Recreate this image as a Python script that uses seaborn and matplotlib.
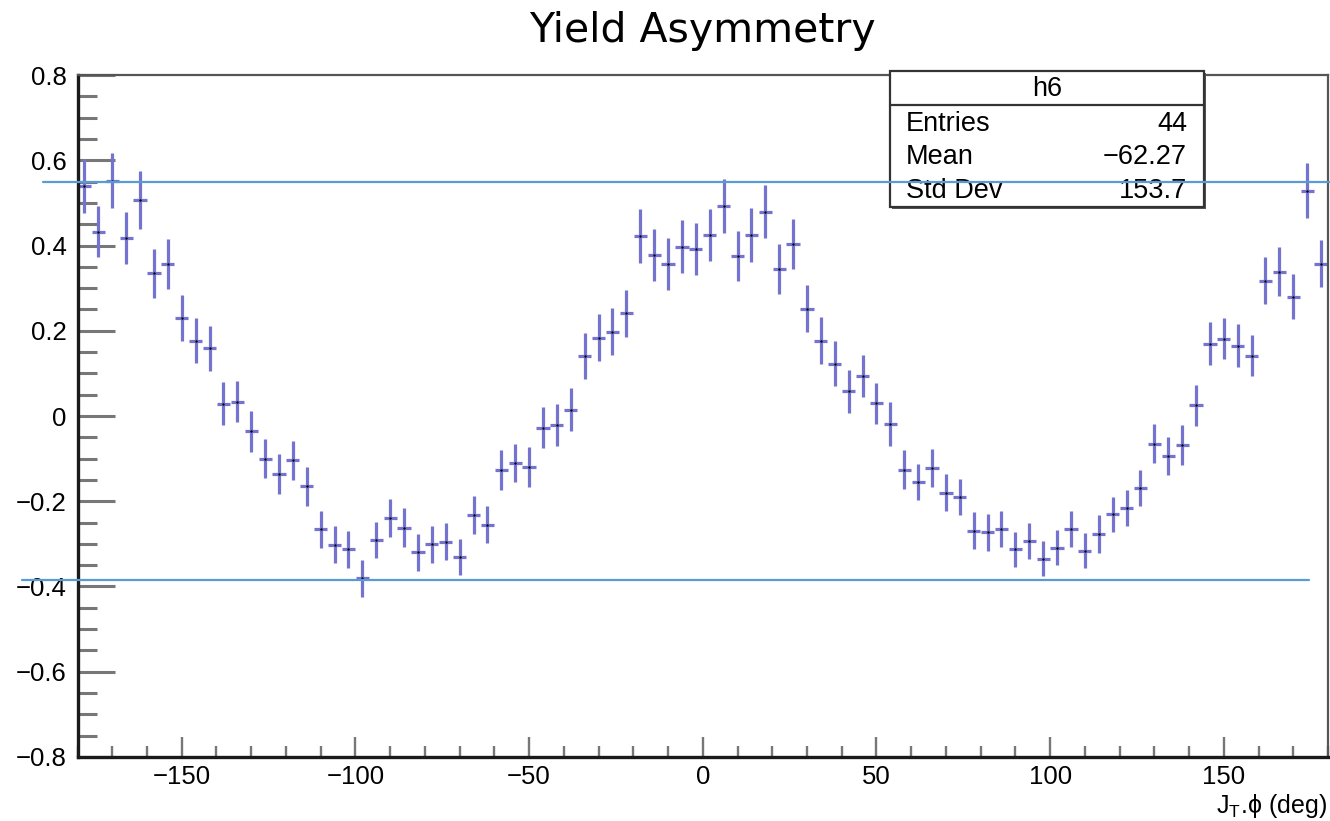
import numpy as np
import matplotlib
matplotlib.use("Agg")
import matplotlib.pyplot as plt
from matplotlib.patches import Rectangle
from matplotlib.ticker import MultipleLocator, FuncFormatter
import seaborn as sns

# bin centres of the 4 deg wide bins
phi = np.arange(-178, 180, 4)

asym = [0.540, 0.432, 0.552, 0.418, 0.507, 0.335, 0.357, 0.230, 0.177, 0.159,
        0.029, 0.034, -0.036, -0.100, -0.136, -0.104, -0.165, -0.266, -0.302, -0.313,
        -0.381, -0.291, -0.240, -0.262, -0.320, -0.301, -0.295, -0.331, -0.233, -0.255,
        -0.126, -0.111, -0.119, -0.028, -0.021, 0.015, 0.141, 0.184, 0.198, 0.241,
        0.422, 0.378, 0.356, 0.397, 0.392, 0.425, 0.493, 0.375, 0.425, 0.479,
        0.345, 0.403, 0.252, 0.177, 0.123, 0.058, 0.094, 0.030, -0.019, -0.126,
        -0.155, -0.122, -0.180, -0.190, -0.269, -0.273, -0.266, -0.313, -0.294, -0.335,
        -0.309, -0.266, -0.316, -0.277, -0.230, -0.216, -0.169, -0.065, -0.094, -0.068,
        0.025, 0.170, 0.181, 0.165, 0.141, 0.317, 0.339, 0.280, 0.529, 0.357]

asym_err = [0.064, 0.060, 0.064, 0.061, 0.068, 0.057, 0.059, 0.055, 0.052, 0.053,
            0.050, 0.049, 0.048, 0.046, 0.046, 0.046, 0.046, 0.043, 0.044, 0.043,
            0.043, 0.043, 0.045, 0.046, 0.044, 0.043, 0.043, 0.042, 0.045, 0.043,
            0.047, 0.045, 0.047, 0.048, 0.050, 0.050, 0.054, 0.056, 0.055, 0.055,
            0.063, 0.061, 0.061, 0.062, 0.061, 0.061, 0.064, 0.059, 0.063, 0.062,
            0.059, 0.059, 0.055, 0.055, 0.052, 0.050, 0.050, 0.048, 0.051, 0.046,
            0.043, 0.045, 0.044, 0.043, 0.043, 0.043, 0.042, 0.041, 0.042, 0.041,
            0.041, 0.042, 0.041, 0.044, 0.041, 0.043, 0.043, 0.046, 0.045, 0.047,
            0.048, 0.050, 0.048, 0.050, 0.048, 0.055, 0.057, 0.053, 0.064, 0.055]

# reference lines (max / min level)
upper_level = 0.548
lower_level = -0.385
upper_span = [-190, 181]
lower_span = [-196, 174.5]

stats_title = "h6"
stats_names = ["Entries", "Mean", "Std Dev"]
stats_values = ["44", "\u221262.27", "153.7"]

sns.set_style("white")
plt.rcParams["font.family"] = ["Liberation Sans", "DejaVu Sans"]
plt.rcParams["mathtext.default"] = "regular"
plt.rcParams["text.color"] = "black"
plt.rcParams["axes.labelcolor"] = "black"

fig = plt.figure(figsize=(13.3, 8.21), dpi=100)
ax = fig.add_axes([0.0583, 0.078, 0.9402, 0.8306])

err_col = "#7474d0"
ax.errorbar(phi, asym, yerr=asym_err, xerr=1.9, fmt="none",
            ecolor=err_col, elinewidth=2.3, capsize=0, zorder=2)
sns.scatterplot(x=phi, y=asym, ax=ax, color="black", s=3, marker="o",
                linewidth=0, zorder=3)

line_col = "#5b9bd5"
ax.plot(upper_span, [upper_level, upper_level], color=line_col, lw=1.6,
        clip_on=False, zorder=6)
ax.plot(lower_span, [lower_level, lower_level], color=line_col, lw=1.6,
        clip_on=False, zorder=6)

ax.set_xlim(-180, 180)
ax.set_ylim(-0.8, 0.8)

ax.xaxis.set_major_locator(MultipleLocator(50))
ax.xaxis.set_minor_locator(MultipleLocator(10))
ax.yaxis.set_major_locator(MultipleLocator(0.2))
ax.yaxis.set_minor_locator(MultipleLocator(0.05))
ax.yaxis.set_major_formatter(FuncFormatter(
    lambda v, p: "0" if abs(v) < 1e-9 else f"{v:.1f}".replace("-", "\u2212")))
ax.xaxis.set_major_formatter(FuncFormatter(
    lambda v, p: f"{v:.0f}".replace("-", "\u2212")))

ax.tick_params(axis="both", which="both", direction="in", colors="#777777",
               labelcolor="black", labelsize=18.5, bottom=True, left=True,
               top=False, right=False)
ax.tick_params(axis="y", which="major", length=26.5, width=2.2, pad=8)
ax.tick_params(axis="y", which="minor", length=13.5, width=2.2)
ax.tick_params(axis="x", which="major", length=14.5, width=1.7, pad=6)
ax.tick_params(axis="x", which="minor", length=8, width=1.7)

for side in ["left", "bottom"]:
    ax.spines[side].set_color("#1a1a1a")
    ax.spines[side].set_linewidth(2.4)
for side in ["top", "right"]:
    ax.spines[side].set_color("#555555")
    ax.spines[side].set_linewidth(1.6)

fig.text(1327 / 1330, 1 - 806 / 821, "J$_T$.\u03d5 (deg)", ha="right",
         va="center", fontsize=18)

fig.text(0.528, 0.962, "Yield Asymmetry", ha="center", va="center",
         fontsize=29.5, family=["DejaVu Sans"])

# stats box in figure coordinates
bx0, bx1 = 890 / 1330, 1204 / 1330
by0, by1 = 1 - 206.7 / 821, 1 - 70.7 / 821
ax.add_patch(Rectangle((bx0 + 0.0018, by0 - 0.003), bx1 - bx0, by1 - by0,
                       transform=fig.transFigure, facecolor="#555555",
                       edgecolor="none", clip_on=False, zorder=4))
ax.add_patch(Rectangle((bx0, by0), bx1 - bx0, by1 - by0,
                       transform=fig.transFigure, facecolor="white",
                       edgecolor="#333333", lw=1.6, clip_on=False, zorder=4))
div_y = 1 - 105 / 821
ax.plot([bx0, bx1], [div_y, div_y], transform=fig.transFigure,
        color="#333333", lw=1.6, clip_on=False, zorder=5)
ax.text((bx0 + bx1) / 2, 1 - 89 / 821, stats_title, transform=fig.transFigure,
        ha="center", va="center", fontsize=19.5, zorder=5)
for i, (name, val) in enumerate(zip(stats_names, stats_values)):
    ty = 1 - (124 + 33.5 * i) / 821
    ax.text(906 / 1330, ty, name, transform=fig.transFigure,
            ha="left", va="center", fontsize=19.5, zorder=5)
    ax.text(1187 / 1330, ty, val, transform=fig.transFigure,
            ha="right", va="center", fontsize=19.5, zorder=5)

fig.savefig("out.png", dpi=100)
